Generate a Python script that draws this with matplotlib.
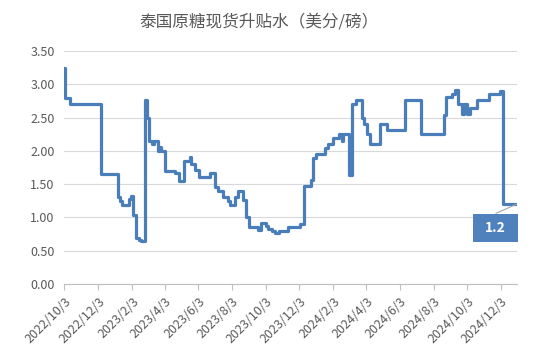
import matplotlib
matplotlib.use('Agg')
import matplotlib.pyplot as plt
from matplotlib.patches import Rectangle
import pandas as pd

plt.rcParams['font.family'] = ['Noto Sans CJK SC', 'DejaVu Sans']

title = '泰国原糖现货升贴水（美分/磅）'

# step breakpoints (date, value)
dates = ['2022-10-03', '2022-10-04', '2022-10-13', '2022-12-09', '2023-01-08',
         '2023-01-11', '2023-01-15', '2023-01-29', '2023-01-31', '2023-02-05',
         '2023-02-10', '2023-02-15', '2023-02-19', '2023-02-26', '2023-03-01',
         '2023-03-06', '2023-03-10', '2023-03-15', '2023-03-21', '2023-03-23',
         '2023-03-28', '2023-04-03', '2023-04-21', '2023-04-28', '2023-05-08',
         '2023-05-18', '2023-05-20', '2023-05-28', '2023-06-04', '2023-06-25',
         '2023-07-03', '2023-07-09', '2023-07-17', '2023-07-26', '2023-07-30',
         '2023-08-08', '2023-08-14', '2023-08-23', '2023-08-28', '2023-09-03',
         '2023-09-20', '2023-09-25', '2023-10-03', '2023-10-08', '2023-10-15',
         '2023-10-20', '2023-10-27', '2023-11-12', '2023-12-04', '2023-12-11',
         '2023-12-24', '2023-12-29', '2024-01-02', '2024-01-19', '2024-01-24',
         '2024-02-02', '2024-02-13', '2024-02-18', '2024-02-20', '2024-03-02',
         '2024-03-08', '2024-03-15', '2024-03-27', '2024-03-29', '2024-04-05',
         '2024-04-09', '2024-04-28', '2024-05-11', '2024-06-12', '2024-07-11',
         '2024-08-22', '2024-08-26', '2024-09-05', '2024-09-11', '2024-09-17',
         '2024-09-23', '2024-09-28', '2024-10-03', '2024-10-09', '2024-10-21',
         '2024-11-12', '2024-12-01', '2024-12-08', '2025-01-01']
values = [3.25, 2.80, 2.70, 1.65, 1.30,
          1.25, 1.19, 1.27, 1.32, 1.03,
          0.69, 0.66, 0.65, 2.76, 2.49,
          2.15, 2.10, 2.15, 2.00, 2.06,
          2.00, 1.70, 1.67, 1.55, 1.85,
          1.91, 1.80, 1.71, 1.60, 1.66,
          1.45, 1.40, 1.31, 1.25, 1.19,
          1.31, 1.40, 1.26, 1.01, 0.86,
          0.81, 0.91, 0.87, 0.83, 0.80,
          0.76, 0.79, 0.86, 0.90, 1.47,
          1.56, 1.90, 1.95, 2.05, 2.11,
          2.19, 2.25, 2.15, 2.25, 1.64,
          2.70, 2.76, 2.50, 2.40, 2.25,
          2.10, 2.40, 2.31, 2.76, 2.25,
          2.54, 2.81, 2.86, 2.91, 2.70,
          2.55, 2.70, 2.55, 2.64, 2.76,
          2.85, 2.90, 1.20, 1.20]

tick_labels = ['2022/10/3', '2022/12/3', '2023/2/3', '2023/4/3', '2023/6/3',
               '2023/8/3', '2023/10/3', '2023/12/3', '2024/2/3', '2024/4/3',
               '2024/6/3', '2024/8/3', '2024/10/3', '2024/12/3']
y_ticks = [0, 0.5, 1.0, 1.5, 2.0, 2.5, 3.0, 3.5]
last_label = '1.2'

x = pd.to_datetime(dates)
ticks = pd.to_datetime(tick_labels, format='%Y/%m/%d')

fig = plt.figure(figsize=(5.33, 3.61), dpi=100)
ax = fig.add_axes([0.121, 0.2133, 0.8484, 0.6454])

ax.plot(x, values, drawstyle='steps-post', color='#4a7ebb', lw=2.3, zorder=3)

ax.set_xlim(x[0], x[-1])
ax.set_ylim(0, 3.5)
ax.set_yticks(y_ticks)
ax.set_yticklabels(['%.2f' % v for v in y_ticks])
ax.set_xticks(ticks)
ax.set_xticklabels(tick_labels, rotation=45, ha='right', rotation_mode='anchor')

ax.grid(axis='y', color='#d9d9d9', lw=0.8)
ax.set_axisbelow(True)
for s in ['left', 'right', 'top']:
    ax.spines[s].set_visible(False)
ax.spines['bottom'].set_color('#bfbfbf')
ax.tick_params(axis='y', length=0, pad=7, labelsize=9, labelcolor='#595959')
ax.tick_params(axis='x', length=4, color='#bfbfbf', pad=4, labelsize=9, labelcolor='#595959')

fig.text(0.486, 0.94, title, ha='center', va='center', fontsize=12, color='#595959')

# data label box for last value
ax.add_patch(Rectangle((0.904, 0.1815), 0.098, 0.119, transform=ax.transAxes,
                       facecolor='#4f81bd', edgecolor='none', clip_on=False, zorder=4))
ax.text(0.953, 0.241, last_label, transform=ax.transAxes, ha='center', va='center',
        color='white', fontsize=10, fontweight='bold', zorder=5)
ax.annotate('', xy=(x[-1], values[-1]), xytext=(0.954, 0.303), textcoords='axes fraction',
            arrowprops=dict(arrowstyle='-', color='#a6a6a6', lw=0.8, shrinkA=0, shrinkB=0),
            annotation_clip=False)

fig.savefig('out.png', dpi=100)
